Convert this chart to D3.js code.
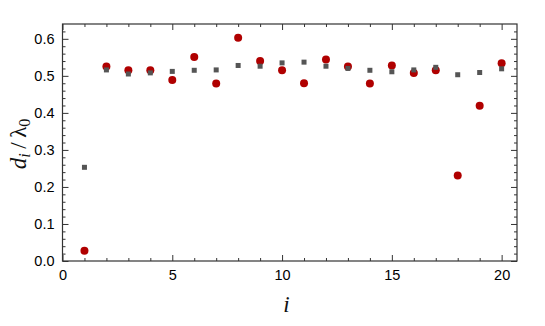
<!DOCTYPE html>
<html>
<head>
<meta charset="utf-8">
<script src="https://cdn.jsdelivr.net/npm/d3@7"></script>
<style>
  body { margin: 0; background: #fff; }
  svg { display: block; }
</style>
</head>
<body>
<svg id="chart" width="545" height="326"></svg>
<script>
const index = d3.range(1, 21);
const redCircles = [0.028, 0.525, 0.515, 0.515, 0.489, 0.551, 0.479, 0.603, 0.540, 0.515,
  0.480, 0.544, 0.525, 0.479, 0.528, 0.508, 0.515, 0.231, 0.419, 0.534];
const graySquares = [0.253, 0.516, 0.505, 0.508, 0.512, 0.515, 0.516, 0.528, 0.526, 0.535,
  0.537, 0.526, 0.520, 0.515, 0.511, 0.516, 0.523, 0.503, 0.509, 0.519];
const xTicks = [0, 5, 10, 15, 20];
const yTicks = [0, 0.1, 0.2, 0.3, 0.4, 0.5, 0.6];

const svg = d3.select("#chart");
const margin = { top: 24, right: 28, bottom: 65, left: 62.5 };
const width = 545 - margin.left - margin.right;
const height = 326 - margin.top - margin.bottom;

const x = d3.scaleLinear().domain([0, 20.7]).range([0, width]);
const y = d3.scaleLinear().domain([0, 0.64]).range([height, 0]);

const g = svg.append("g").attr("transform", `translate(${margin.left},${margin.top})`);

const tickColor = "#333";
const xMinor = d3.range(0, 21, 1).filter((v) => v % 5 !== 0);
const yMinor = d3.range(0, 0.64, 0.02).filter((v) => Math.abs(v * 10 - Math.round(v * 10)) > 1e-6);

function styleAxis(sel) {
  sel.select(".domain").remove();
  sel.selectAll("line").attr("stroke", tickColor).attr("stroke-width", 1);
  sel.selectAll("text")
    .attr("font-family", "'Liberation Sans', Arial, sans-serif")
    .attr("font-size", 14.5)
    .attr("fill", "#000");
}

// major + minor ticks, pointing inward, on all four sides
g.append("g").attr("transform", `translate(0,${height})`)
  .call(d3.axisBottom(x).tickValues(xTicks).tickSize(-6).tickPadding(9).tickFormat(d3.format("d")))
  .call(styleAxis);
g.append("g").attr("transform", `translate(0,${height})`)
  .call(d3.axisBottom(x).tickValues(xMinor).tickSize(-3).tickFormat(""))
  .call(styleAxis);
g.append("g")
  .call(d3.axisTop(x).tickValues(xTicks).tickSize(-6).tickFormat(""))
  .call(styleAxis);
g.append("g")
  .call(d3.axisTop(x).tickValues(xMinor).tickSize(-3).tickFormat(""))
  .call(styleAxis);

g.append("g")
  .call(d3.axisLeft(y).tickValues(yTicks).tickSize(-6).tickPadding(8).tickFormat(d3.format(".1f")))
  .call(styleAxis);
g.append("g")
  .call(d3.axisLeft(y).tickValues(yMinor).tickSize(-3).tickFormat(""))
  .call(styleAxis);
g.append("g").attr("transform", `translate(${width},0)`)
  .call(d3.axisRight(y).tickValues(yTicks).tickSize(-6).tickFormat(""))
  .call(styleAxis);
g.append("g").attr("transform", `translate(${width},0)`)
  .call(d3.axisRight(y).tickValues(yMinor).tickSize(-3).tickFormat(""))
  .call(styleAxis);

g.append("rect")
  .attr("width", width)
  .attr("height", height)
  .attr("fill", "none")
  .attr("stroke", tickColor)
  .attr("stroke-width", 1.2);

// red circles first, gray squares drawn over them
g.selectAll("circle.red")
  .data(index)
  .join("circle")
  .attr("class", "red")
  .attr("cx", (d) => x(d))
  .attr("cy", (d, i) => y(redCircles[i]))
  .attr("r", 4)
  .attr("fill", "#b00000");

const sq = 5;
g.selectAll("rect.gray")
  .data(index)
  .join("rect")
  .attr("class", "gray")
  .attr("x", (d) => x(d) - sq / 2)
  .attr("y", (d, i) => y(graySquares[i]) - sq / 2)
  .attr("width", sq)
  .attr("height", sq)
  .attr("fill", "#555");

// axis titles
svg.append("text")
  .attr("x", margin.left + x(10.2))
  .attr("y", 312)
  .attr("text-anchor", "middle")
  .attr("font-family", "'Liberation Serif', 'DejaVu Serif', serif")
  .attr("font-style", "italic")
  .attr("font-size", 23)
  .attr("fill", "#111")
  .text("i");

const yLabel = svg.append("text")
  .attr("transform", `translate(26,${144}) rotate(-90)`)
  .attr("text-anchor", "middle")
  .attr("font-family", "'Liberation Serif', 'DejaVu Serif', serif")
  .attr("font-size", 23)
  .attr("fill", "#111");
yLabel.append("tspan").attr("font-style", "italic").text("d");
yLabel.append("tspan").attr("font-style", "italic").attr("font-size", 16).attr("dy", 4).text("i");
yLabel.append("tspan").attr("dy", -4).text("\u2009/\u2009");
yLabel.append("tspan").text("λ");
yLabel.append("tspan").attr("font-size", 16).attr("dy", 4).text("0");
</script>
</body>
</html>
